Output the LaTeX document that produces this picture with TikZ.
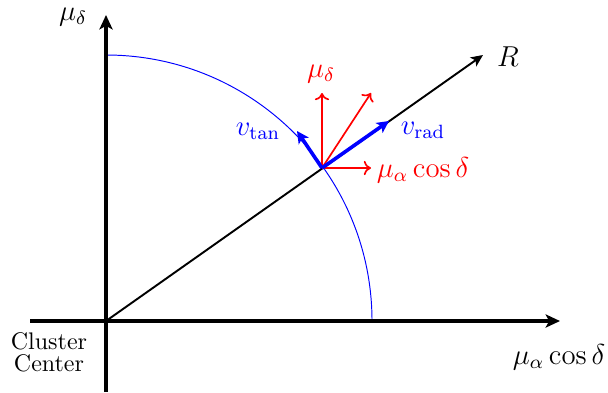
\documentclass[tikz,border=0pt]{standalone}
\usetikzlibrary{arrows.meta}
\begin{document}
\begin{tikzpicture}[x=0.41667pt,y=-0.41667pt,
  axis/.style={line width=1.5pt,-{Stealth[length=6pt,width=5.5pt,inset=1.5pt]}},
  radline/.style={line width=0.8pt,-{Stealth[length=5pt,width=4.5pt,inset=1.2pt]}},
  redarrow/.style={red,line width=0.7pt,-{To[length=3pt,width=6pt]}},
  bluearrow/.style={blue,line width=1.5pt,-{Stealth[length=5pt,width=5pt,inset=1.2pt]}},
  lbl/.style={font=\large,inner sep=0pt}]
\useasboundingbox (0,0) rectangle (608,392);
\coordinate (O) at (106,321);
\coordinate (xs) at (30,321);
\coordinate (xe) at (560,321);
\coordinate (ys) at (106,392);
\coordinate (ye) at (106,15);
\coordinate (Re) at (483,55);
\coordinate (P) at (322,168);
\coordinate (mud) at (322,93);
\coordinate (mua) at (371,168);
\coordinate (musum) at (371,93);
\coordinate (vr) at (389,121);
\coordinate (vt) at (297,131);
\coordinate (arcS) at (106,55);
% arc
\draw[blue,line width=0.4pt] (arcS) arc[start angle=-90,end angle=0,radius=266];
% axes
\draw[axis] (xs) -- (xe);
\draw[axis] (ys) -- (ye);
\draw[radline] (O) -- (Re);
% red components
\draw[redarrow] (P) -- (mud);
\draw[redarrow] (P) -- (mua);
\draw[redarrow] (P) -- (musum);
% blue components
\draw[bluearrow] (P) -- (vr);
\draw[bluearrow] (P) -- (vt);
% labels
\node[lbl] (lmud) at (73,17) {$\mu_\delta$};
\node[lbl] (lmua) at (559,357) {$\mu_\alpha\cos\delta$};
\node[lbl] (lR) at (508,57) {$R$};
\node[lbl,red] (rmud) at (321,74) {$\mu_\delta$};
\node[lbl,red] (rmua) at (423,170) {$\mu_\alpha\cos\delta$};
\node[lbl,blue] (bvt) at (258,131) {$v_{\tan}$};
\node[lbl,blue] (bvr) at (423,130) {$v_{\rm rad}$};
\node[align=center,inner sep=0pt] (cc) at (49,352) {Cluster\\[-3pt]Center};
\end{tikzpicture}
\end{document}
